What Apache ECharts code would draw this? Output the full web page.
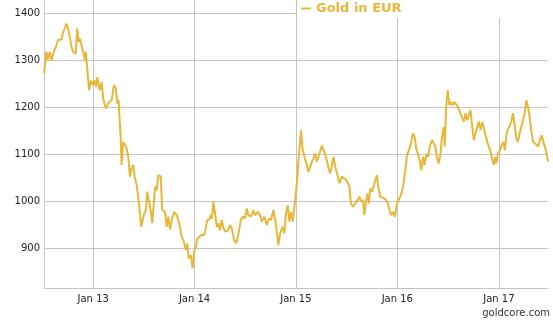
<!DOCTYPE html>
<html><head><meta charset="utf-8">
<script src="https://cdn.jsdelivr.net/npm/echarts@6/dist/echarts.min.js"></script>
<style>html,body{margin:0;padding:0;background:#fff}#c{width:553px;height:327px}</style>
</head><body><div id="c"></div>
<script>
const seriesName = 'Gold in EUR';
const sourceLabel = 'goldcore.com';
// dates as decimal years (e.g. 2013.5 = mid 2013)
const dateYears = [
2012.516,2012.540,2012.553,2012.572,2012.589,2012.612,2012.632,2012.654,2012.688,2012.704,
2012.720,2012.737,2012.753,2012.770,2012.787,2012.802,2012.819,2012.829,2012.842,2012.856,
2012.869,2012.885,2012.901,2012.918,2012.928,2012.941,2012.960,2012.977,2012.994,2013.010,
2013.027,2013.040,2013.053,2013.066,2013.083,2013.099,2013.125,2013.148,2013.182,2013.204,
2013.224,2013.237,2013.251,2013.257,2013.271,2013.280,2013.296,2013.316,2013.330,2013.346,
2013.362,2013.379,2013.395,2013.409,2013.429,2013.444,2013.461,2013.474,2013.488,2013.504,
2013.520,2013.533,2013.550,2013.567,2013.583,2013.600,2013.612,2013.626,2013.642,2013.666,
2013.681,2013.708,2013.725,2013.741,2013.758,2013.774,2013.797,2013.824,2013.849,2013.873,
2013.889,2013.906,2013.916,2013.928,2013.942,2013.962,2013.982,2013.995,2014.014,2014.027,
2014.047,2014.071,2014.096,2014.113,2014.126,2014.146,2014.160,2014.172,2014.185,2014.202,
2014.219,2014.235,2014.251,2014.268,2014.284,2014.308,2014.333,2014.350,2014.367,2014.390,
2014.409,2014.432,2014.456,2014.476,2014.498,2014.515,2014.531,2014.548,2014.558,2014.580,
2014.597,2014.624,2014.646,2014.663,2014.689,2014.713,2014.735,2014.755,2014.778,2014.801,
2014.827,2014.844,2014.867,2014.886,2014.900,2014.920,2014.936,2014.953,2014.969,2014.985,
2014.999,2015.012,2015.025,2015.039,2015.051,2015.064,2015.084,2015.108,2015.123,2015.140,
2015.157,2015.173,2015.190,2015.206,2015.222,2015.239,2015.256,2015.272,2015.288,2015.305,
2015.321,2015.338,2015.355,2015.370,2015.387,2015.410,2015.430,2015.453,2015.476,2015.496,
2015.509,2015.528,2015.542,2015.562,2015.585,2015.607,2015.627,2015.641,2015.661,2015.674,
2015.693,2015.706,2015.720,2015.733,2015.750,2015.765,2015.785,2015.799,2015.815,2015.832,
2015.851,2015.871,2015.891,2015.908,2015.923,2015.940,2015.957,2015.977,2015.997,2016.016,
2016.036,2016.056,2016.079,2016.095,2016.121,2016.138,2016.155,2016.170,2016.187,2016.204,
2016.220,2016.237,2016.253,2016.269,2016.286,2016.303,2016.319,2016.342,2016.358,2016.375,
2016.392,2016.407,2016.424,2016.441,2016.457,2016.467,2016.481,2016.496,2016.513,2016.530,
2016.546,2016.562,2016.579,2016.595,2016.615,2016.639,2016.654,2016.671,2016.688,2016.704,
2016.720,2016.737,2016.753,2016.770,2016.787,2016.802,2016.819,2016.836,2016.852,2016.869,
2016.885,2016.901,2016.918,2016.935,2016.951,2016.960,2016.974,2016.990,2017.010,2017.027,
2017.043,2017.059,2017.076,2017.093,2017.109,2017.123,2017.138,2017.155,2017.172,2017.188,
2017.204,2017.221,2017.241,2017.257,2017.271,2017.286,2017.303,2017.320,2017.336,2017.356,
2017.372,2017.389,2017.405,2017.422,2017.438,2017.451,2017.464,2017.484
];
const goldEUR = [
1272,1318,1300,1318,1300,1318,1328,1343,1344,1360,
1367,1378,1367,1350,1328,1318,1321,1314,1367,1339,
1346,1343,1318,1300,1318,1282,1236,1257,1247,1257,
1243,1264,1247,1236,1254,1218,1197,1208,1215,1247,
1240,1208,1215,1187,1137,1077,1126,1119,1112,1094,
1052,1070,1077,1052,1034,1009,974,945,960,974,
981,1020,999,981,953,1002,1031,1023,1055,1053,
981,977,945,967,940,958,977,970,953,924,
917,920,896,910,878,885,857,892,903,920,
924,928,928,945,960,961,970,963,999,974,
945,953,938,960,942,935,938,949,942,917,
910,928,960,967,963,984,970,972,967,981,
970,977,970,956,967,949,963,960,981,953,
906,931,945,931,970,991,956,977,956,988,
1016,1045,1087,1123,1151,1112,1094,1077,1062,1073,
1084,1091,1101,1084,1094,1091,1118,1115,1100,1087,
1070,1059,1077,1094,1073,1055,1038,1052,1048,1045,
1048,1031,995,988,995,1002,1009,999,1002,970,
1002,1016,995,1027,1020,1031,1045,1055,1027,1009,
1009,1006,1002,995,981,970,977,967,995,991,
1013,1030,1066,1098,1112,1116,1144,1137,1112,1108,
1087,1066,1094,1077,1101,1094,1116,1130,1123,1116,
1091,1080,1098,1140,1158,1116,1201,1236,1204,1211,
1204,1211,1208,1201,1190,1176,1169,1187,1172,1183,
1194,1158,1130,1130,1158,1169,1151,1169,1165,1140,
1126,1116,1105,1087,1077,1094,1080,1101,1108,1119,
1126,1108,1144,1155,1162,1169,1187,1162,1133,1126,
1144,1158,1176,1190,1215,1201,1179,1148,1126,1123,
1126,1116,1130,1140,1126,1123,1108,1084
];

function yearToMs(y) {
  const yr = Math.floor(y);
  const a = new Date(yr, 0, 1).getTime();
  const b = new Date(yr + 1, 0, 1).getTime();
  return a + (y - yr) * (b - a);
}
const seriesData = dateYears.map((y, i) => [yearToMs(y), goldEUR[i]]);

const gold = '#E6B83A';
const gridColor = '#C4C4C4';
const font = 'DejaVu Sans';
const YEAR_MS = 365 * 24 * 3600 * 1000;

const chart = echarts.init(document.getElementById('c'), null, {renderer: 'canvas'});
chart.setOption({
  animation: false,
  backgroundColor: '#fff',
  grid: {left: 44, right: 5, top: 0, bottom: 39, containLabel: false},
  legend: {
    data: [seriesName],
    left: 297, top: 0,
    padding: [2, 152, 3, 4],
    backgroundColor: '#fff',
    icon: 'rect', itemWidth: 10, itemHeight: 2,
    textStyle: {color: gold, fontFamily: font, fontWeight: 'bold', fontSize: 13},
    selectedMode: false
  },
  title: {
    text: sourceLabel, right: 3, top: 308,
    textStyle: {color: '#333', fontFamily: font, fontWeight: 'normal', fontSize: 10},
    padding: 0
  },
  xAxis: {
    type: 'time',
    min: 'dataMin', max: 'dataMax',
    minInterval: YEAR_MS, maxInterval: YEAR_MS * 1.01,
    axisLine: {show: true, lineStyle: {color: gridColor, width: 1}},
    axisTick: {show: false},
    splitLine: {show: true, showMinLine: false, showMaxLine: false, lineStyle: {color: gridColor, width: 1}},
    axisLabel: {
      showMinLabel: false, showMaxLabel: false,
      color: '#222', fontFamily: font, fontSize: 10, margin: 6,
      formatter: function (v) {
        const d = new Date(v);
        if (d.getMonth() !== 0 || d.getDate() !== 1) return '';
        return 'Jan ' + String(d.getFullYear()).slice(2);
      }
    }
  },
  yAxis: {
    type: 'value',
    min: 815, max: 1428,
    axisLine: {show: true, lineStyle: {color: gridColor, width: 1}},
    axisTick: {show: false},
    splitLine: {show: true, showMinLine: false, showMaxLine: false, lineStyle: {color: gridColor, width: 1}},
    axisLabel: {
      showMinLabel: false, showMaxLabel: false,
      color: '#222', fontFamily: font, fontSize: 10, margin: 4,
      formatter: function (v) { return v % 100 === 0 ? String(v) : ''; }
    }
  },
  series: [{
    name: seriesName,
    type: 'line',
    data: seriesData,
    showSymbol: false,
    symbol: 'none',
    lineStyle: {color: gold, width: 2},
    itemStyle: {color: gold}
  }]
});
</script></body></html>
